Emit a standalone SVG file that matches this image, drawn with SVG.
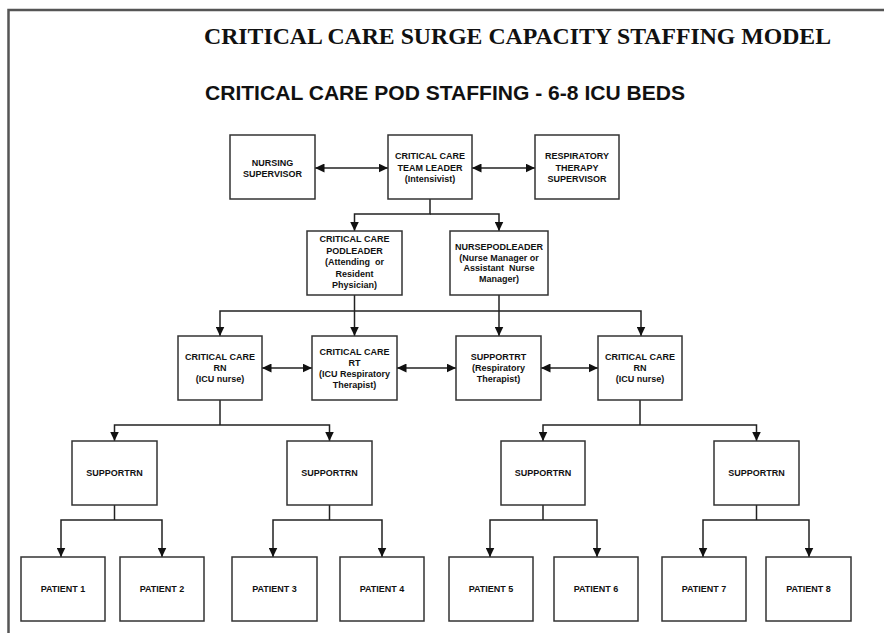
<svg xmlns="http://www.w3.org/2000/svg" width="884" height="633" viewBox="0 0 884 633">
<defs>
<style>
.box{fill:#fff;stroke:#333;stroke-width:1.5}
.t{font-family:"Liberation Sans",Arial,sans-serif;font-weight:bold;font-size:9px;text-anchor:middle;fill:#111}
.c{fill:none;stroke:#222;stroke-width:1.5}
.h1{font-family:"Liberation Serif","Times New Roman",serif;font-weight:bold;font-size:23.5px;fill:#111}
.h2{font-family:"Liberation Sans",Arial,sans-serif;font-weight:bold;font-size:20px;fill:#111}
</style>
<marker id="ah" markerUnits="userSpaceOnUse" markerWidth="10" markerHeight="9" refX="9.5" refY="4.5" orient="auto-start-reverse">
<path d="M0,0 L9.5,4.5 L0,9 z" fill="#111"/>
</marker>
</defs>
<rect width="884" height="633" fill="#fff"/>
<path d="M8.5,633 V10 H884" fill="none" stroke="#555" stroke-width="2.5"/>
<text class="h1" x="204" y="44" textLength="627" lengthAdjust="spacingAndGlyphs">CRITICAL CARE SURGE CAPACITY STAFFING MODEL</text>
<text class="h2" x="205" y="100" textLength="480" lengthAdjust="spacingAndGlyphs">CRITICAL CARE POD STAFFING - 6-8 ICU BEDS</text>

<g id="connectors">
<path class="c" d="M315,168 H388" marker-start="url(#ah)" marker-end="url(#ah)"/>
<path class="c" d="M472,168 H535" marker-start="url(#ah)" marker-end="url(#ah)"/>
<path class="c" d="M430,199 V214 H354.5 V231" marker-end="url(#ah)"/>
<path class="c" d="M430,214 H499 V231" marker-end="url(#ah)"/>
<path class="c" d="M354.5,295 V336" marker-end="url(#ah)"/>
<path class="c" d="M499,295 V336" marker-end="url(#ah)"/>
<path class="c" d="M220,336 V311 H641 V336" marker-start="url(#ah)" marker-end="url(#ah)"/>
<path class="c" d="M262,368 H312" marker-start="url(#ah)" marker-end="url(#ah)"/>
<path class="c" d="M397,368 H456" marker-start="url(#ah)" marker-end="url(#ah)"/>
<path class="c" d="M541,368 H598" marker-start="url(#ah)" marker-end="url(#ah)"/>
<path class="c" d="M220,400 V425"/>
<path class="c" d="M114.5,441 V425 H329.5 V441" marker-start="url(#ah)" marker-end="url(#ah)"/>
<path class="c" d="M640,400 V425"/>
<path class="c" d="M543,441 V425 H756.5 V441" marker-start="url(#ah)" marker-end="url(#ah)"/>
<path class="c" d="M114.5,505 V520"/>
<path class="c" d="M61,557 V520 H162 V557" marker-start="url(#ah)" marker-end="url(#ah)"/>
<path class="c" d="M329.5,505 V520"/>
<path class="c" d="M273,557 V520 H382 V557" marker-start="url(#ah)" marker-end="url(#ah)"/>
<path class="c" d="M543,505 V520"/>
<path class="c" d="M490,557 V520 H597 V557" marker-start="url(#ah)" marker-end="url(#ah)"/>
<path class="c" d="M756.5,505 V520"/>
<path class="c" d="M703,557 V520 H809 V557" marker-start="url(#ah)" marker-end="url(#ah)"/>
</g>

<g id="nursing-supervisor">
<rect class="box" x="230" y="135" width="85" height="64"/>
<text class="t" x="272.5" y="166">NURSING</text>
<text class="t" x="272.5" y="177">SUPERVISOR</text>
</g>
<g id="team-leader">
<rect class="box" x="388" y="135" width="84" height="64"/>
<text class="t" x="430" y="159">CRITICAL CARE</text>
<text class="t" x="430" y="170.5">TEAM LEADER</text>
<text class="t" x="430" y="182">(Intensivist)</text>
</g>
<g id="respiratory-supervisor">
<rect class="box" x="535" y="135" width="84" height="64"/>
<text class="t" x="577" y="159">RESPIRATORY</text>
<text class="t" x="577" y="170.5">THERAPY</text>
<text class="t" x="577" y="182">SUPERVISOR</text>
</g>
<g id="pod-leader">
<rect class="box" x="307" y="231" width="95" height="64"/>
<text class="t" x="354.5" y="242">CRITICAL CARE</text>
<text class="t" x="354.5" y="253.5">PODLEADER</text>
<text class="t" x="354.5" y="265" xml:space="preserve">(Attending  or</text>
<text class="t" x="354.5" y="276.5">Resident</text>
<text class="t" x="354.5" y="288">Physician)</text>
</g>
<g id="nurse-pod-leader">
<rect class="box" x="450" y="231" width="98" height="64"/>
<text class="t" x="499" y="250">NURSEPODLEADER</text>
<text class="t" x="499" y="260.7">(Nurse Manager or</text>
<text class="t" x="499" y="271.4" xml:space="preserve">Assistant  Nurse</text>
<text class="t" x="499" y="282.1">Manager)</text>
</g>
<g id="cc-rn-left">
<rect class="box" x="178" y="336" width="84" height="64"/>
<text class="t" x="220" y="360">CRITICAL CARE</text>
<text class="t" x="220" y="371">RN</text>
<text class="t" x="220" y="382">(ICU nurse)</text>
</g>
<g id="cc-rt">
<rect class="box" x="312" y="336" width="85" height="64"/>
<text class="t" x="354.5" y="354.5">CRITICAL CARE</text>
<text class="t" x="354.5" y="365.5">RT</text>
<text class="t" x="354.5" y="376.5">(ICU Respiratory</text>
<text class="t" x="354.5" y="387.5">Therapist)</text>
</g>
<g id="support-rt">
<rect class="box" x="456" y="336" width="85" height="64"/>
<text class="t" x="498.5" y="360">SUPPORTRT</text>
<text class="t" x="498.5" y="371">(Respiratory</text>
<text class="t" x="498.5" y="382">Therapist)</text>
</g>
<g id="cc-rn-right">
<rect class="box" x="598" y="336" width="84" height="64"/>
<text class="t" x="640" y="360">CRITICAL CARE</text>
<text class="t" x="640" y="371">RN</text>
<text class="t" x="640" y="382">(ICU nurse)</text>
</g>
<g id="support-rn-1">
<rect class="box" x="72" y="441" width="85" height="64"/>
<text class="t" x="114.5" y="476">SUPPORTRN</text>
</g>
<g id="support-rn-2">
<rect class="box" x="287" y="441" width="85" height="64"/>
<text class="t" x="329.5" y="476">SUPPORTRN</text>
</g>
<g id="support-rn-3">
<rect class="box" x="501" y="441" width="84" height="64"/>
<text class="t" x="543" y="476">SUPPORTRN</text>
</g>
<g id="support-rn-4">
<rect class="box" x="714" y="441" width="85" height="64"/>
<text class="t" x="756.5" y="476">SUPPORTRN</text>
</g>
<g id="patient-1"><rect class="box" x="21" y="557" width="84" height="64"/><text class="t" x="63" y="592">PATIENT 1</text></g>
<g id="patient-2"><rect class="box" x="120" y="557" width="84" height="64"/><text class="t" x="162" y="592">PATIENT 2</text></g>
<g id="patient-3"><rect class="box" x="232" y="557" width="85" height="64"/><text class="t" x="274.5" y="592">PATIENT 3</text></g>
<g id="patient-4"><rect class="box" x="340" y="557" width="84" height="64"/><text class="t" x="382" y="592">PATIENT 4</text></g>
<g id="patient-5"><rect class="box" x="449" y="557" width="84" height="64"/><text class="t" x="491" y="592">PATIENT 5</text></g>
<g id="patient-6"><rect class="box" x="554" y="557" width="84" height="64"/><text class="t" x="596" y="592">PATIENT 6</text></g>
<g id="patient-7"><rect class="box" x="662" y="557" width="84" height="64"/><text class="t" x="704" y="592">PATIENT 7</text></g>
<g id="patient-8"><rect class="box" x="766" y="557" width="85" height="64"/><text class="t" x="808.5" y="592">PATIENT 8</text></g>
</svg>
